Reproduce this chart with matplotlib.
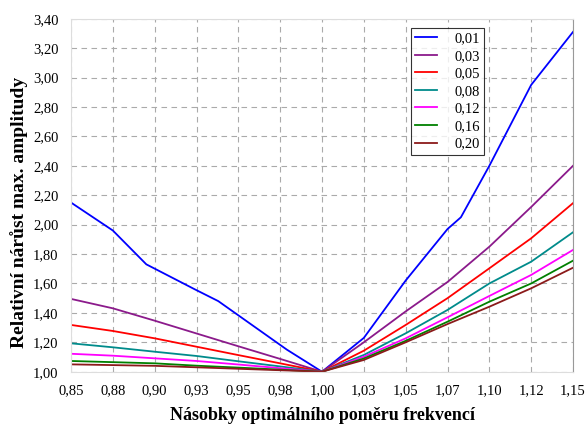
import numpy as np
import matplotlib
matplotlib.use("Agg")
import matplotlib.pyplot as plt

plt.rcParams['font.family'] = ['Liberation Serif', 'DejaVu Serif']

# blue series (damping 0.01) has its own break points
x_blue = [0.85, 0.875, 0.895, 0.924, 0.938, 0.979, 1.0,
          1.025, 1.05, 1.075, 1.083, 1.10, 1.125, 1.15]
y_blue = [2.15, 1.96, 1.73, 1.56, 1.48, 1.15, 1.0,
          1.23, 1.62, 1.97, 2.05, 2.40, 2.95, 3.31]

x_common = [0.85, 0.875, 0.90, 0.925, 0.95, 0.975, 1.0,
            1.025, 1.05, 1.075, 1.10, 1.125, 1.15]
y_003 = [1.495, 1.431, 1.347, 1.26, 1.173, 1.087, 1.0, 1.20, 1.41, 1.61, 1.85, 2.12, 2.40]
y_005 = [1.318, 1.277, 1.227, 1.17, 1.113, 1.057, 1.0, 1.143, 1.318, 1.50, 1.703, 1.907, 2.146]
y_008 = [1.193, 1.166, 1.136, 1.107, 1.071, 1.036, 1.0, 1.114, 1.261, 1.42, 1.60, 1.748, 1.948]
y_012 = [1.122, 1.109, 1.091, 1.073, 1.049, 1.024, 1.0, 1.102, 1.227, 1.37, 1.515, 1.658, 1.828]
y_016 = [1.073, 1.065, 1.057, 1.041, 1.028, 1.014, 1.0, 1.09, 1.21, 1.34, 1.476, 1.60, 1.755]
y_020 = [1.05, 1.045, 1.04, 1.03, 1.02, 1.01, 1.0, 1.08, 1.20, 1.324, 1.442, 1.567, 1.707]

labels = ["0,01", "0,03", "0,05", "0,08", "0,12", "0,16", "0,20"]
colors = ["#0000FF", "#8B1A8B", "#FF0000", "#008B8B", "#FF00FF", "#008000", "#8B1A1A"]

x_ticks = np.linspace(0.85, 1.15, 13)
x_tick_labels = ["0,85", "0,88", "0,90", "0,93", "0,95", "0,98", "1,00",
                 "1,03", "1,05", "1,07", "1,10", "1,12", "1,15"]
y_ticks = np.linspace(1.0, 3.4, 13)
y_tick_labels = ["1,00", "1,20", "1,40", "1,60", "1,80", "2,00", "2,20",
                 "2,40", "2,60", "2,80", "3,00", "3,20", "3,40"]

fig = plt.figure(figsize=(5.85, 4.28), dpi=100)
ax = fig.add_axes([0.1214, 0.1315, 0.8581, 0.8248])

series = [y_003, y_005, y_008, y_012, y_016, y_020]
ax.plot(x_blue, y_blue, color=colors[0], lw=1.3, label=labels[0])
for ys, c, lab in zip(series, colors[1:], labels[1:]):
    ax.plot(x_common, ys, color=c, lw=1.3, label=lab)

ax.set_xlim(0.85, 1.15)
ax.set_ylim(1.0, 3.4)
ax.set_xticks(x_ticks)
ax.set_xticklabels(x_tick_labels, fontsize=10.5)
ax.set_yticks(y_ticks)
ax.set_yticklabels(y_tick_labels, fontsize=10.5)
ax.tick_params(length=0, pad=9)

ax.grid(True, color="#aaaaaa", linestyle=(0, (5, 4)), lw=0.8)
ax.set_axisbelow(True)
for side in ["left", "top", "bottom"]:
    ax.spines[side].set_color("#DDDDDD")
ax.spines["right"].set_color("#999999")

ax.set_xlabel("Násobky optimálního poměru frekvencí", fontsize=13,
              fontweight="bold", labelpad=7)
ax.set_ylabel("Relativní nárůst max. amplitudy", fontsize=14,
              fontweight="bold")
ax.yaxis.set_label_coords(-0.086, 0.45)

leg = ax.legend(loc="upper right", bbox_to_anchor=(0.823, 0.975),
                fontsize=10.5, frameon=True, fancybox=False, shadow=False,
                handlelength=1.5, labelspacing=0.3, borderpad=0.3,
                handletextpad=1.2, borderaxespad=0.0)
leg.get_frame().set_edgecolor("black")
leg.get_frame().set_linewidth(0.8)

fig.savefig("out.png", dpi=100)
